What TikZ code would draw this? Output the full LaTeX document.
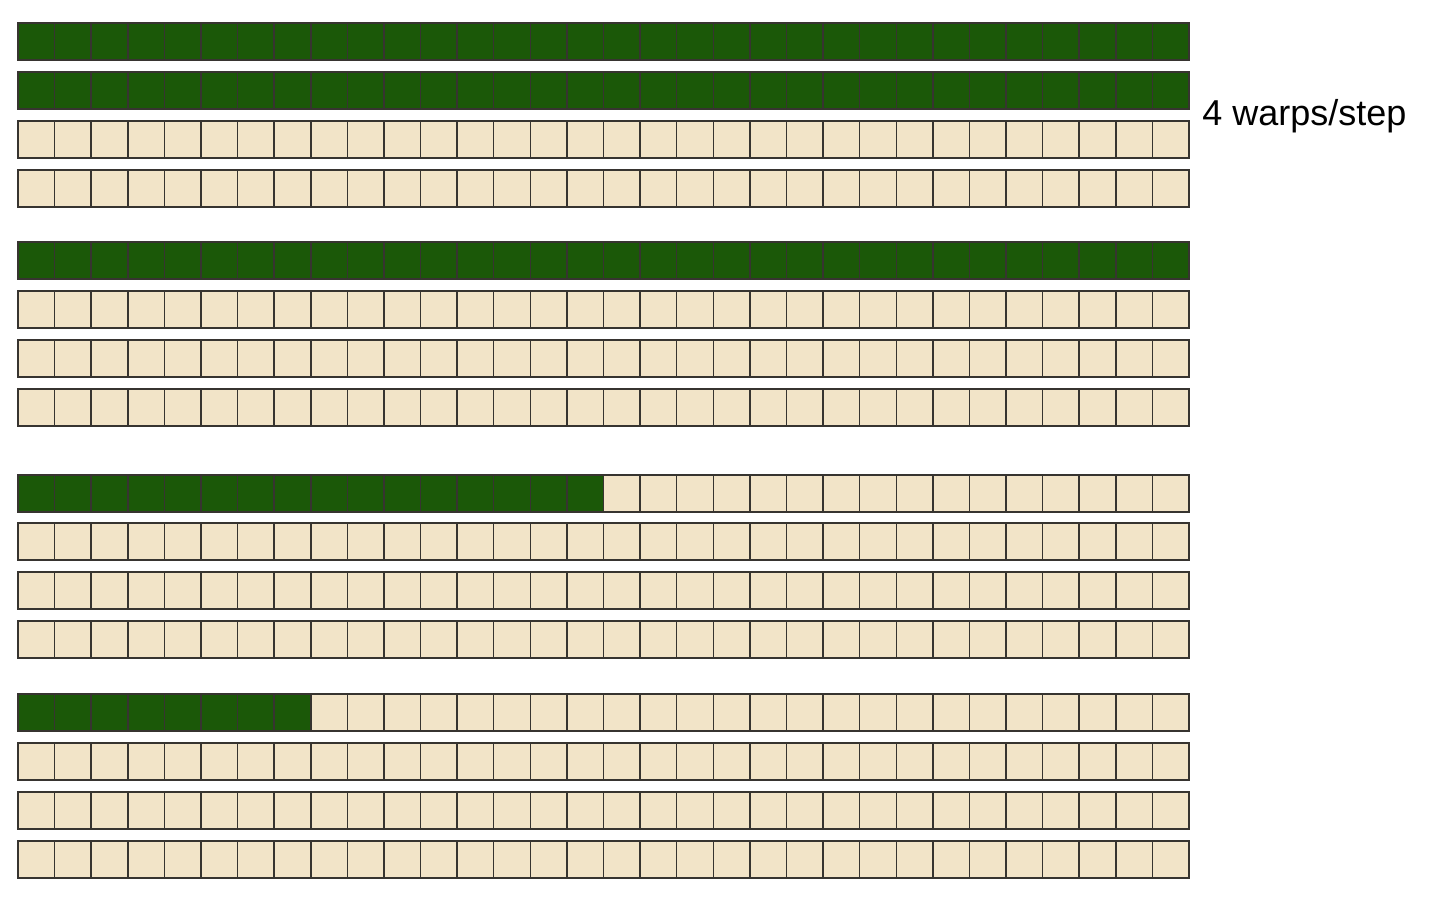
\documentclass[tikz,border=0pt]{standalone}
\usepackage{fontspec}
\setmainfont{Liberation Sans}
\definecolor{warpgreen}{RGB}{27,88,8}
\definecolor{warpcream}{RGB}{242,228,200}
\definecolor{cellline}{RGB}{55,52,48}
\tikzset{
  cellgrid/.style={draw=cellline, line width=0.75pt},
  labeltext/.style={font=\fontsize{18}{21}\selectfont, text=black, inner sep=0pt}
}
\begin{document}
\begin{tikzpicture}[x=0.5pt,y=-0.5pt]
\useasboundingbox[fill=white] (0,0) rectangle (1434,922);
\def\cw{36.594}
\foreach \yy/\n in {23/32,72/32,121/0,170/0,242/32,291/0,340/0,389/0,475/16,523/0,572/0,621/0,694/8,743/0,792/0,841/0}{
  \fill[warpcream] (18,\yy) rectangle (1189,\yy+37);
  \ifnum\n>0
    \fill[warpgreen] (18,\yy) rectangle ({18+\n*\cw},\yy+37);
  \fi
  \foreach \i in {1,...,31}{
    \draw[cellgrid] ({18+\i*\cw},\yy) -- ({18+\i*\cw},\yy+37);
  }
  \draw[cellgrid] (18,\yy) rectangle (1189,\yy+37);
}
\node[labeltext, anchor=base west] (lbl) at (1202,125) {4 warps/step};
\end{tikzpicture}
\end{document}
